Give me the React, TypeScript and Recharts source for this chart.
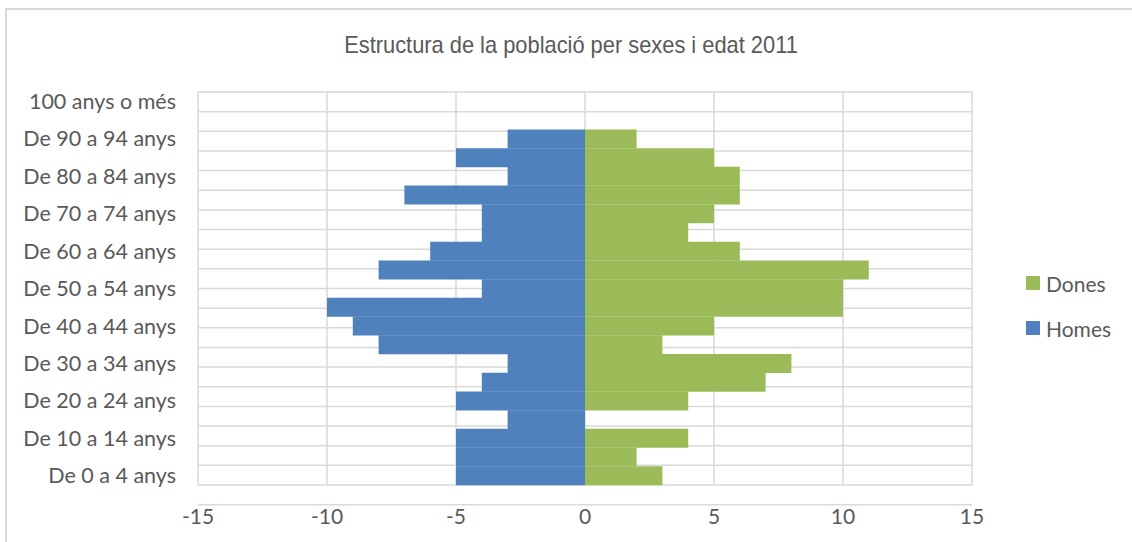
import { BarChart, Bar, XAxis, YAxis, CartesianGrid, Legend } from "recharts";

const ageGroups = [
  "De 0 a 4 anys",
  "De 5 a 9 anys",
  "De 10 a 14 anys",
  "De 15 a 19 anys",
  "De 20 a 24 anys",
  "De 25 a 29 anys",
  "De 30 a 34 anys",
  "De 35 a 39 anys",
  "De 40 a 44 anys",
  "De 45 a 49 anys",
  "De 50 a 54 anys",
  "De 55 a 59 anys",
  "De 60 a 64 anys",
  "De 65 a 69 anys",
  "De 70 a 74 anys",
  "De 75 a 79 anys",
  "De 80 a 84 anys",
  "De 85 a 89 anys",
  "De 90 a 94 anys",
  "De 95 a 99 anys",
  "100 anys o més",
];

// homes drawn to the left, so kept negative
const homes = [-5, -5, -5, -3, -5, -4, -3, -8, -9, -10, -4, -8, -6, -4, -4, -7, -3, -5, -3, 0, 0];
const dones = [3, 2, 4, 0, 4, 7, 8, 3, 5, 10, 10, 11, 6, 4, 5, 6, 6, 5, 2, 0, 0];

const xTicks = [-15, -10, -5, 0, 5, 10, 15];

const colors = { Dones: "#9bbb59", Homes: "#4f81bd" };
const legendOrder = ["Dones", "Homes"] as const;

const chartData = ageGroups.map((name, i) => ({
  name,
  Homes: homes[i],
  Dones: dones[i],
}));

// one boundary per band edge, for the horizontal grid
const bandEdges = [...ageGroups.map((_, i) => i), ageGroups.length];

const textColor = "#595959";
const gridColor = "#d9d9d9";
const font = "Lato, 'Open Sans', sans-serif";

function LegendBox() {
  return (
    <div style={{ width: 140, paddingLeft: 54, boxSizing: "border-box", fontFamily: font }}>
      {legendOrder.map((key, i) => (
        <div
          key={key}
          style={{
            display: "flex",
            alignItems: "center",
            height: 22,
            marginTop: i === 0 ? 0 : 23,
            fontSize: 21,
            color: textColor,
            whiteSpace: "nowrap",
          }}
        >
          <span
            style={{
              display: "inline-block",
              flexShrink: 0,
              width: 14,
              height: 14,
              background: colors[key],
              marginRight: 6,
            }}
          />
          {key}
        </div>
      ))}
    </div>
  );
}

export default function App() {
  return (
    <div
      style={{
        position: "absolute",
        left: 0,
        top: 0,
        width: 1132,
        height: 542,
        background: "#fff",
        overflow: "hidden",
      }}
    >
      <div
        style={{
          position: "absolute",
          left: 5,
          top: 8,
          right: -4,
          bottom: -4,
          borderLeft: `2px solid ${gridColor}`,
          borderTop: `2px solid ${gridColor}`,
        }}
      />
      <div
        style={{
          position: "absolute",
          left: 0,
          top: 30,
          width: 1142,
          textAlign: "center",
          fontFamily: "'Liberation Sans Narrow', 'Liberation Sans', sans-serif",
          fontSize: 24,
          color: textColor,
          lineHeight: "30px",
          transform: "scaleX(0.91)",
        }}
      >
        Estructura de la població per sexes i edat 2011
      </div>
      <BarChart
        width={1132}
        height={542}
        data={chartData}
        layout="vertical"
        stackOffset="sign"
        barCategoryGap={0}
        margin={{ top: 92, right: 20, bottom: 0, left: 0 }}
        style={{ position: "absolute", left: 0, top: 0 }}
      >
        <CartesianGrid stroke={gridColor} strokeWidth={1.5} yAxisId="grid" />
        <XAxis
          type="number"
          domain={[-15, 15]}
          ticks={xTicks}
          interval={0}
          axisLine={false}
          tickLine={false}
          tickSize={0}
          tickMargin={24}
          height={57}
          tick={{ fontSize: 21, fill: textColor, fontFamily: font }}
        />
        <YAxis
          yAxisId="cat"
          type="category"
          dataKey="name"
          reversed
          interval={1}
          width={198}
          axisLine={false}
          tickLine={false}
          tickSize={0}
          tickMargin={22}
          tick={{ fontSize: 21.5, fill: textColor, fontFamily: font }}
        />
        <YAxis
          yAxisId="grid"
          type="number"
          domain={[0, ageGroups.length]}
          ticks={bandEdges}
          interval={0}
          hide
        />
        <Legend
          layout="vertical"
          align="right"
          verticalAlign="top"
          wrapperStyle={{ top: 272 }}
          content={() => <LegendBox />}
        />
        <Bar yAxisId="cat" dataKey="Dones" stackId="a" fill={colors.Dones} isAnimationActive={false} />
        <Bar yAxisId="cat" dataKey="Homes" stackId="a" fill={colors.Homes} isAnimationActive={false} />
      </BarChart>
    </div>
  );
}
